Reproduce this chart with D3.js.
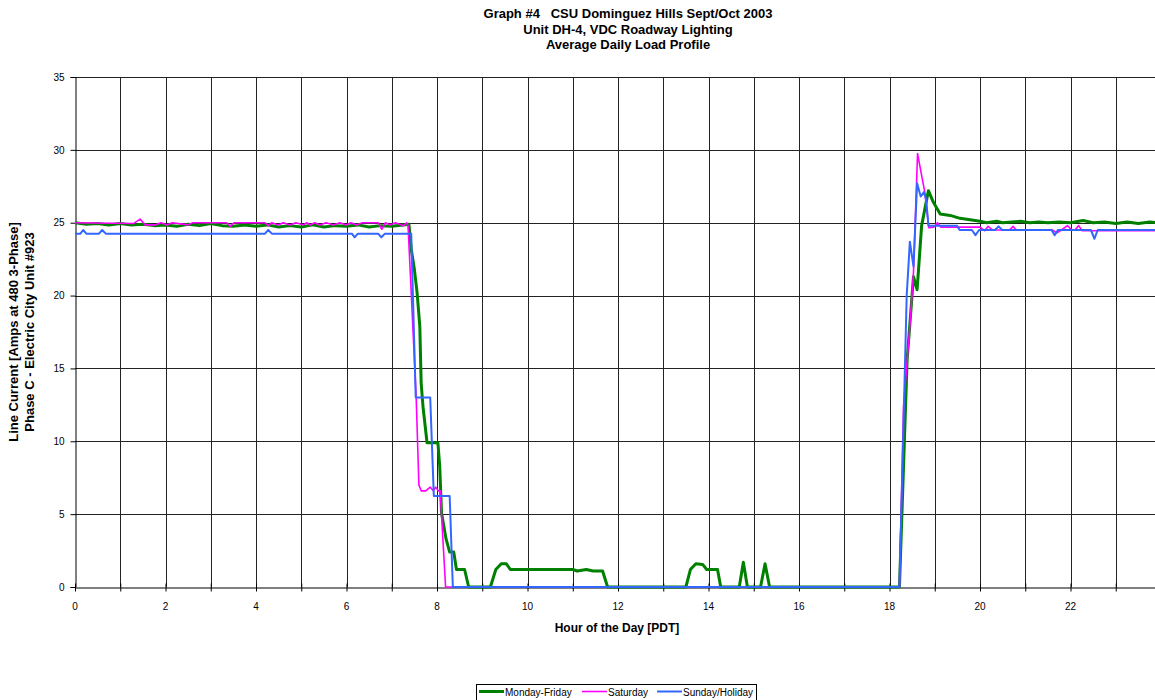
<!DOCTYPE html>
<html>
<head>
<meta charset="utf-8">
<script src="https://cdn.jsdelivr.net/npm/d3@7"></script>
<style>
  body { margin: 0; background: #fff; }
  svg { display: block; font-family: "Liberation Sans", Arial, sans-serif; }
</style>
</head>
<body>
<svg class="chart" width="1155" height="700"></svg>
<script>
// [hour, amps] pairs
const mondayFriday = [
  [0,25.0],[0.25,24.9],[0.5,24.95],[0.75,24.85],[1,24.95],[1.25,24.85],[1.5,24.9],[1.75,24.8],
  [2,24.85],[2.25,24.75],[2.5,24.9],[2.75,24.8],[3,24.95],[3.25,24.8],[3.5,24.75],[3.75,24.85],
  [4,24.75],[4.25,24.85],[4.5,24.7],[4.75,24.8],[5,24.7],[5.25,24.85],[5.5,24.7],[5.75,24.8],
  [6,24.75],[6.25,24.85],[6.5,24.7],[6.75,24.8],[7,24.75],[7.25,24.85],[7.38,24.9],
  [7.43,23.2],[7.5,21.8],[7.56,20.2],[7.62,17.9],[7.65,14.0],[7.69,12.4],[7.78,9.9],[8.02,9.9],
  [8.06,8.3],[8.1,5.1],[8.2,3.3],[8.28,2.4],[8.37,2.4],[8.43,1.2],[8.61,1.2],[8.7,0],
  [9.18,0],[9.3,1.2],[9.42,1.6],[9.53,1.6],[9.62,1.2],[11.0,1.2],[11.1,1.1],[11.3,1.2],
  [11.45,1.1],[11.66,1.1],[11.77,0],[13.5,0],[13.6,1.2],[13.72,1.6],[13.87,1.55],[13.96,1.2],
  [14.2,1.2],[14.27,0],[14.68,0],[14.77,1.7],[14.86,0],[15.15,0],[15.25,1.6],[15.35,0],
  [18.22,0],[18.39,15.6],[18.53,21.3],[18.61,20.4],[18.71,24.8],[18.86,27.2],[18.97,26.4],
  [19.12,25.6],[19.34,25.5],[19.56,25.3],[19.78,25.2],[20,25.1],[20.15,25.0],[20.37,25.1],
  [20.5,25.0],[20.7,25.05],[20.9,25.1],[21.1,25.0],[21.3,25.05],[21.5,25.0],[21.75,25.05],
  [22,25.0],[22.28,25.15],[22.5,25.0],[22.75,25.05],[23,24.95],[23.25,25.05],[23.5,24.95],
  [23.75,25.05],[23.9,25.0]
]

const saturday = [
  [0,25.0],[1.3,24.95],[1.44,25.25],[1.55,24.85],[1.77,24.85],[1.9,25.0],[2.03,24.85],[2.15,25.0],
  [2.5,24.85],[2.6,25.0],[3.35,25.0],[3.43,24.75],[3.52,25.0],[4.2,25.0],[4.27,24.8],[4.35,25.0],
  [4.49,24.85],[4.6,25.0],[4.75,24.85],[4.88,25.0],[5.05,24.85],[5.12,25.0],[5.19,24.85],[5.3,25.0],
  [5.41,24.85],[5.55,25.0],[5.71,24.85],[5.85,25.0],[6.0,24.85],[6.1,25.0],[6.22,24.85],[6.35,25.0],
  [6.7,25.0],[6.78,24.55],[6.86,25.0],[6.96,24.85],[7.08,25.0],[7.26,24.8],[7.33,25.0],
  [7.36,24.8],[7.54,13.0],[7.6,7.0],[7.65,6.6],[7.75,6.6],[7.85,6.85],[7.92,6.6],[7.97,6.85],
  [8.03,6.6],[8.07,6.6],[8.19,0],[18.22,0],[18.31,12.4],[18.45,17.9],[18.53,21.6],[18.62,29.75],
  [18.7,28.4],[18.78,27.1],[18.87,24.65],[18.98,24.7],[19.06,25.0],[19.13,24.7],[20.0,24.7],
  [20.1,24.45],[20.18,24.75],[20.28,24.5],[20.65,24.5],[20.73,24.75],[20.8,24.5],[21.6,24.5],
  [21.7,24.3],[21.8,24.5],[21.93,24.8],[22.03,24.5],[22.1,24.5],[22.18,24.8],[22.26,24.45],[23.9,24.45]
]

const sundayHoliday = [
  [0,24.25],[0.12,24.25],[0.18,24.5],[0.25,24.25],[0.53,24.25],[0.6,24.5],[0.68,24.25],
  [4.2,24.25],[4.27,24.5],[4.35,24.25],[6.12,24.25],[6.18,24.0],[6.25,24.25],[6.7,24.25],
  [6.77,24.0],[6.85,24.25],[7.43,24.25],[7.53,13.0],[7.85,13.0],[7.93,6.25],[8.28,6.25],
  [8.35,0],[18.22,0],[18.38,20.0],[18.45,23.7],[18.53,22.0],[18.61,27.7],[18.69,26.8],
  [18.76,27.1],[18.81,26.6],[18.86,24.8],[19.49,24.8],[19.55,24.5],[19.82,24.5],[19.9,24.15],
  [19.98,24.5],[20.33,24.5],[20.41,24.75],[20.49,24.5],[21.58,24.5],[21.65,24.15],[21.72,24.5],
  [22.45,24.5],[22.53,23.9],[22.6,24.5],[23.9,24.5]
]

const seriesNames = ['Monday-Friday', 'Saturday', 'Sunday/Holiday']
const seriesData = [mondayFriday, saturday, sundayHoliday]
const seriesColors = ['#008000', '#ff00ff', '#3366ff']
const seriesWidths = [3, 1.6, 2]

const xTickValues = d3.range(0, 24, 2)
const yTickValues = d3.range(0, 36, 5)

const titleLines = [
  'Graph #4   CSU Dominguez Hills Sept/Oct 2003',
  'Unit DH-4, VDC Roadway Lighting',
  'Average Daily Load Profile'
]
const yTitleLines = ['Line Current [Amps at 480 3-Phase]', 'Phase C - Electric City Unit #923']

const svg = d3.select('svg.chart')

// plot area
const LEFT = 75, TOP = 77, BOTTOM = 587
const xScale = d3.scaleLinear().domain([0, 24]).range([LEFT, LEFT + 45.25 * 24])
const yScale = d3.scaleLinear().domain([0, 35]).range([BOTTOM, TOP])

// grid
svg.append('g')
  .selectAll('line')
  .data(d3.range(1, 25))
  .join('line')
  .attr('x1', d => Math.round(xScale(d)) + 0.5)
  .attr('x2', d => Math.round(xScale(d)) + 0.5)
  .attr('y1', TOP)
  .attr('y2', BOTTOM)
  .attr('stroke', '#222')
  .attr('stroke-width', 1)

svg.append('g')
  .selectAll('line')
  .data(yTickValues.slice(1))
  .join('line')
  .attr('x1', LEFT)
  .attr('x2', 1155)
  .attr('y1', d => Math.round(yScale(d)) + 0.5)
  .attr('y2', d => Math.round(yScale(d)) + 0.5)
  .attr('stroke', '#222')
  .attr('stroke-width', 1)

// axes
const xAxis = svg.append('g')
  .attr('transform', `translate(0,${BOTTOM + 0.5})`)
  .call(d3.axisBottom(xScale).tickValues(d3.range(0, 24)).tickSize(0).tickFormat(''))
xAxis.select('.domain').attr('stroke', '#000')
xAxis.selectAll('.tick line').attr('y1', -4).attr('y2', 4).attr('stroke', '#000')

svg.append('g')
  .selectAll('text')
  .data(xTickValues)
  .join('text')
  .attr('x', d => xScale(d))
  .attr('y', 610)
  .attr('text-anchor', 'middle')
  .style('font-size', '10px')
  .text(d => d)

const yAxis = svg.append('g')
  .attr('transform', `translate(${LEFT + 0.5},0)`)
  .call(d3.axisLeft(yScale).tickValues(yTickValues).tickSize(5).tickPadding(6))
yAxis.select('.domain').attr('stroke', '#000')
yAxis.selectAll('.tick line').attr('stroke', '#000')
yAxis.selectAll('.tick text')
  .style('font-size', '10px')
  .style('font-family', '"Liberation Sans", Arial, sans-serif')
  .attr('fill', '#000')

// series lines, weekday under weekend
const line = d3.line().x(d => xScale(d[0])).y(d => yScale(d[1]))
svg.append('g')
  .selectAll('path')
  .data(seriesData)
  .join('path')
  .attr('d', line)
  .attr('fill', 'none')
  .attr('stroke', (d, i) => seriesColors[i])
  .attr('stroke-width', (d, i) => seriesWidths[i])
  .attr('stroke-linejoin', 'round')

// titles
svg.append('g')
  .selectAll('text')
  .data(titleLines)
  .join('text')
  .attr('x', 628)
  .attr('y', (d, i) => 18 + i * 15.5)
  .attr('text-anchor', 'middle')
  .style('font-size', '13px')
  .style('font-weight', 'bold')
  .style('white-space', 'pre')
  .text(d => d)

svg.append('text')
  .attr('x', 617)
  .attr('y', 632)
  .attr('text-anchor', 'middle')
  .style('font-size', '12px')
  .style('font-weight', 'bold')
  .text('Hour of the Day [PDT]')

svg.append('g')
  .selectAll('text')
  .data(yTitleLines)
  .join('text')
  .attr('transform', (d, i) => `translate(${18 + i * 16},${(TOP + BOTTOM) / 2}) rotate(-90)`)
  .attr('text-anchor', 'middle')
  .style('font-size', '13px')
  .style('font-weight', 'bold')
  .text(d => d)

// legend
const legend = svg.append('g').attr('transform', 'translate(476,684)')
legend.append('rect')
  .attr('x', 0.5).attr('y', 0.5)
  .attr('width', 280).attr('height', 20)
  .attr('fill', '#fff')
  .attr('stroke', '#000')

const legendOffsets = [3, 106, 181]
const legendItems = legend.selectAll('g.item')
  .data(seriesNames)
  .join('g')
  .attr('class', 'item')
  .attr('transform', (d, i) => `translate(${legendOffsets[i]},0)`)

legendItems.append('line')
  .attr('x1', 0).attr('x2', 25)
  .attr('y1', 7.5).attr('y2', 7.5)
  .attr('stroke', (d, i) => seriesColors[i])
  .attr('stroke-width', (d, i) => seriesWidths[i])

legendItems.append('text')
  .attr('x', 26)
  .attr('y', 11.5)
  .style('font-size', '10px')
  .text(d => d)
</script>
</body>
</html>
